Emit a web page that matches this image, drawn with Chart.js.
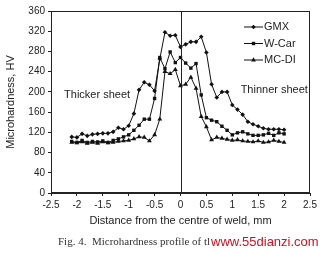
<!DOCTYPE html>
<html><head><meta charset="utf-8">
<script src="https://cdn.jsdelivr.net/npm/chart.js@4/dist/chart.umd.min.js"></script>
<style>
html,body{margin:0;padding:0;background:#fff;}
#wrap{position:relative;width:326px;height:254px;overflow:hidden;}
#cap{position:absolute;left:58px;top:235px;font-family:"Liberation Serif",serif;font-size:11px;color:#333;white-space:nowrap;}
#wm{position:absolute;left:211px;top:234px;font-family:"Liberation Sans",Arial,sans-serif;font-size:13px;color:#cc1122;white-space:nowrap;}
</style></head><body>
<div id="wrap"><canvas id="c" width="326" height="254"></canvas>
<div id="cap">Fig. 4.&nbsp; Microhardness profile of tl</div>
<div id="wm">www.55dianzi.com</div></div>
<script>
const distance = [-2.1,-2.0,-1.9,-1.8,-1.7,-1.6,-1.5,-1.4,-1.3,-1.2,-1.1,-1.0,-0.9,-0.8,-0.7,-0.6,-0.5,-0.4,-0.3,-0.2,-0.1,0.0,0.1,0.2,0.3,0.4,0.5,0.6,0.7,0.8,0.9,1.0,1.1,1.2,1.3,1.4,1.5,1.6,1.7,1.8,1.9,2.0];
const gmx  = [111,110,117,113,116,117,118,118,121,129,126,133,157,204,219,214,202,265,318,311,312,289,294,299,299,309,278,215,189,200,200,174,165,155,141,136,132,128,126,126,126,125];
const wcar = [102,100,104,100,102,101,103,100,104,107,111,115,124,134,146,146,187,268,246,279,258,268,257,247,256,194,149,144,141,132,124,115,119,121,117,114,114,115,118,114,119,117];
const mcdi = [100,99,101,98,100,98,101,99,100,102,103,104,107,111,110,103,115,146,240,236,244,212,215,229,207,151,131,105,110,108,106,104,105,103,102,101,103,100,101,104,102,100];
const seriesNames = ['GMX','W-Car','MC-DI'];
const xTicks = [-2.5,-2,-1.5,-1,-0.5,0,0.5,1,1.5,2,2.5];
const yTicks = [0,40,80,120,160,200,240,280,320,360];
const notes = [{text:'Thicker sheet',x:-1.61,y:194},{text:'Thinner sheet',x:1.81,y:203}];

const toPts = arr => arr.map((v,i)=>({x:distance[i],y:v}));
const styles = [
  {pointStyle:'rectRot',pointRadius:2.3},
  {pointStyle:'rect',pointRadius:2.4},
  {pointStyle:'triangle',pointRadius:2.8}
];
const datasets = [gmx,wcar,mcdi].map((arr,i)=>Object.assign({
  label:seriesNames[i], data:toPts(arr), showLine:true, borderColor:'#111', backgroundColor:'#111',
  borderWidth:1, pointBorderWidth:0, pointHoverRadius:0, tension:0
},styles[i]));

const TXT='#222';
const extras = {
  id:'extras',
  afterDraw(chart){
    const ctx=chart.ctx, a=chart.chartArea, sx=chart.scales.x, sy=chart.scales.y;
    ctx.save();
    ctx.strokeStyle='#222'; ctx.lineWidth=1;
    ctx.strokeRect(a.left+0.5,a.top+0.5,a.right-a.left-1,a.bottom-a.top-1);
    const x0=Math.round(sx.getPixelForValue(0))+0.5;
    ctx.beginPath(); ctx.moveTo(x0,a.top); ctx.lineTo(x0,a.bottom); ctx.stroke();
    ctx.fillStyle=TXT; ctx.font='11px "Liberation Sans", Arial, sans-serif';
    ctx.textAlign='center'; ctx.textBaseline='middle';
    notes.forEach(n=>ctx.fillText(n.text,sx.getPixelForValue(n.x),sy.getPixelForValue(n.y)));
    // legend
    const lx1=a.right-66, lx2=a.right-47;
    chart.data.datasets.forEach((d,i)=>{
      const yy=a.top+16+i*16.5;
      ctx.strokeStyle='#111'; ctx.lineWidth=1;
      ctx.beginPath(); ctx.moveTo(lx1,yy); ctx.lineTo(lx2,yy); ctx.stroke();
      ctx.fillStyle='#111';
      Chart.helpers.drawPoint(ctx,{pointStyle:d.pointStyle,radius:d.pointRadius,borderWidth:0},(lx1+lx2)/2,yy);
      ctx.fillStyle=TXT; ctx.textAlign='left';
      ctx.fillText(d.label,lx2+1,yy);
    });
    ctx.restore();
  }
};

new Chart(document.getElementById('c'),{
  type:'scatter',
  data:{datasets},
  options:{
    responsive:false, animation:false, devicePixelRatio:1,
    layout:{padding:{left:0,right:16,top:11,bottom:26}},
    plugins:{legend:{display:false},tooltip:{enabled:false}},
    scales:{
      x:{type:'linear',min:-2.5,max:2.5,
        afterBuildTicks:s=>{s.ticks=xTicks.map(v=>({value:v}));},
        afterFit:s=>{s.height=35;},
        border:{display:true,color:'#222'},
        grid:{display:true,drawOnChartArea:false,color:'#222',tickLength:3,tickColor:'#222'},
        ticks:{color:TXT,font:{family:'"Liberation Sans", Arial, sans-serif',size:10},padding:3,maxRotation:0,callback:v=>String(v)},
        title:{display:true,text:'Distance from the centre of weld, mm',color:TXT,font:{family:'"Liberation Sans", Arial, sans-serif',size:11},padding:{top:1,bottom:0}}
      },
      y:{type:'linear',min:0,max:360,
        afterBuildTicks:s=>{s.ticks=yTicks.map(v=>({value:v}));},
        afterFit:s=>{s.width=51;},
        border:{display:true,color:'#222'},
        grid:{display:true,drawOnChartArea:false,color:'#222',tickLength:3,tickColor:'#222'},
        ticks:{color:TXT,font:{family:'"Liberation Sans", Arial, sans-serif',size:10},padding:3,callback:v=>String(v)},
        title:{display:true,text:'Microhardness, HV',color:TXT,font:{family:'"Liberation Sans", Arial, sans-serif',size:11},padding:{top:4,bottom:2}}
      }
    }
  },
  plugins:[extras]
});
</script>
</body></html>
